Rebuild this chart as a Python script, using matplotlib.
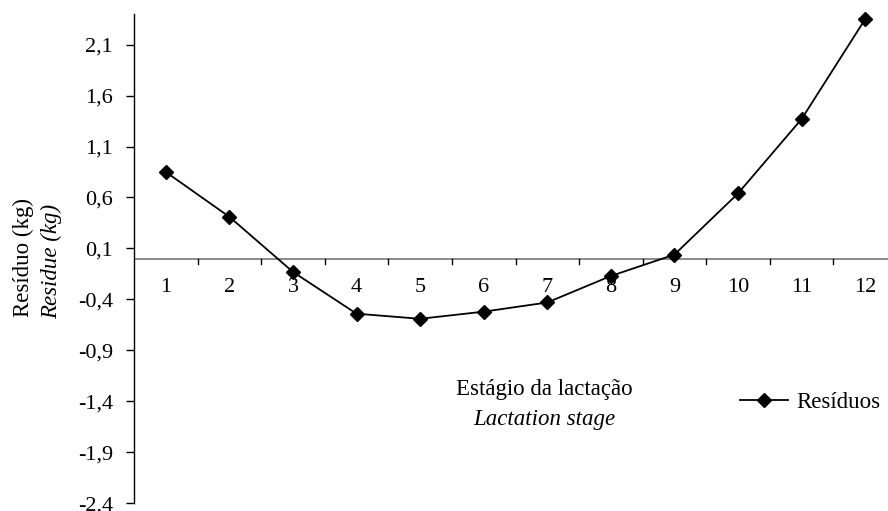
import matplotlib
matplotlib.use("Agg")
import matplotlib.pyplot as plt

stages = [1, 2, 3, 4, 5, 6, 7, 8, 9, 10, 11, 12]
residuos = [0.85, 0.41, -0.13, -0.54, -0.59, -0.52, -0.43, -0.17, 0.04, 0.64, 1.37, 2.35]
yticks = [-2.4, -1.9, -1.4, -0.9, -0.4, 0.1, 0.6, 1.1, 1.6, 2.1]
ytick_labels = ["-2,4", "-1,9", "-1,4", "-0,9", "-0,4", "0,1", "0,6", "1,1", "1,6", "2,1"]

plt.rcParams['font.family'] = ['Liberation Serif', 'DejaVu Serif']
W, H = 888, 511
fig = plt.figure(figsize=(W / 100, H / 100), dpi=100)
left, right, top, bottom = 134, 897, 14, 503.3
ax = fig.add_axes([left / W, 1 - bottom / H, (right - left) / W, (bottom - top) / H])

ax.plot(stages, residuos, color='black', lw=1.3, marker='D', ms=7.2,
        markerfacecolor='black', markeredgecolor='black', label='Resíduos', clip_on=False)

ax.set_xlim(0.5, 12.5)
ax.set_ylim(-2.4, 2.4)
for s in ['top', 'right', 'bottom']:
    ax.spines[s].set_visible(False)
ax.spines['left'].set_color('black')
ax.spines['left'].set_linewidth(1.0)

# horizontal category axis at y=0
ax.axhline(0, color='#808080', lw=1.3, zorder=1)
for k in range(1, 12):
    ax.plot([k + 0.5, k + 0.5], [0, -0.05], color='black', lw=1.0, zorder=1)
for k in stages:
    ax.text(k, -0.285, str(k), ha='center', va='center', fontsize=16)

ax.set_xticks([])
ax.set_yticks(yticks)
ax.set_yticklabels(ytick_labels, fontsize=16)
ax.tick_params(axis='y', direction='out', length=6, width=1.0, pad=9)

fig.text(23 / W, 1 - 257 / H, 'Resíduo (kg)', rotation=90, ha='center', va='center', fontsize=16.5)
fig.text(52 / W, 1 - 261 / H, 'Residue (kg)', rotation=90, ha='center', va='center', fontsize=16.5, style='italic')

fig.text(544 / W, 1 - 390 / H, 'Estágio da lactação', ha='center', va='center', fontsize=16.5)
fig.text(544 / W, 1 - 420 / H, 'Lactation stage', ha='center', va='center', fontsize=16.5, style='italic')

leg = ax.legend(loc='center left', bbox_to_anchor=(740 / W, 1 - 402 / H), bbox_transform=fig.transFigure,
                frameon=False, fontsize=16.5, handlelength=2.1, handletextpad=0.35, borderpad=0, borderaxespad=0)

fig.savefig('out.png', dpi=100)
